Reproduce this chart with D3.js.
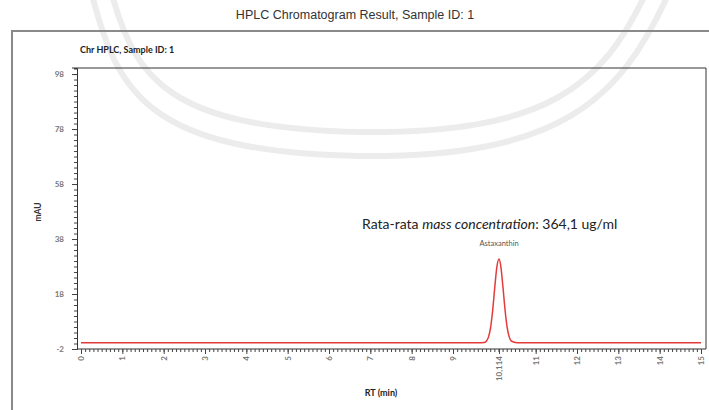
<!DOCTYPE html>
<html>
<head>
<meta charset="utf-8">
<script src="https://cdn.jsdelivr.net/npm/d3@7"></script>
<style>
  html, body { margin: 0; padding: 0; background: #fff; }
  svg { display: block; }
</style>
</head>
<body>
<svg id="chart" width="709" height="410"></svg>
<script>
// ---- data ----
const chartTitle = "HPLC Chromatogram Result, Sample ID: 1";
const panelTitle = "Chr HPLC, Sample ID: 1";
const peakName = "Astaxanthin";
// chromatogram trace: retention time (min) and absorbance (mAU)
const rtValues  = [0, 9.6, 9.76, 9.81, 9.86, 9.91, 9.96, 10.01, 10.06, 10.114, 10.16, 10.21, 10.26, 10.31, 10.36, 10.41, 10.55, 15];
const mauValues = [0.3, 0.3, 0.4, 0.9, 2.4, 5.9, 12.1, 20.3, 27.7, 30.7, 27.7, 20.3, 12.1, 5.9, 2.4, 0.9, 0.3, 0.3];
const xTickValues = [0, 1, 2, 3, 4, 5, 6, 7, 8, 9, 10.114, 11, 12, 13, 14, 15];
const xTickLabels = ["0","1","2","3","4","5","6","7","8","9","10,114","11","12","13","14","15"];
const yTickValues = [-2, 18, 38, 58, 78, 98];
const yTickLabels = ["-2","18","38","58","78","98"];
const peakRT = 10.114, peakMAU = 30.7;
const xDomain = [0, 15];
const yDomain = [-2, 100.2];

const svg = d3.select("#chart");

// faint background watermark arcs
const wm = svg.append("g").attr("fill", "none").attr("stroke", "#ececec").attr("stroke-width", 6);
wm.append("path").attr("d", "M92,-5 C118,95 150,152 360,156 C560,158 620,100 668,-5");
wm.append("path").attr("d", "M112,-5 C136,80 170,128 360,132 C548,134 602,85 645,-5");

// page title
svg.append("text").attr("x", 355).attr("y", 19).attr("text-anchor", "middle")
  .attr("font-family", "Liberation Sans, Arial, sans-serif").attr("font-size", 12.5)
  .attr("fill", "#333").text(chartTitle);

// outer frame
svg.append("rect").attr("x", 12).attr("y", 31).attr("width", 720).attr("height", 400)
  .attr("fill", "none").attr("stroke", "#8a8a8a").attr("stroke-width", 2);

// panel title
svg.append("text").attr("x", 80).attr("y", 53)
  .attr("font-family", "Lato, Open Sans, sans-serif").attr("font-weight", "bold").attr("font-size", 9)
  .attr("fill", "#222").text(panelTitle);

const x = d3.scaleLinear().domain(xDomain).range([81, 701]);
const y = d3.scaleLinear().domain(yDomain).range([349, 68]);

// plot frame top and right
svg.append("line").attr("x1", 72).attr("x2", 706).attr("y1", 68).attr("y2", 68)
  .attr("stroke", "#333").attr("stroke-width", 1);
svg.append("line").attr("x1", 706).attr("x2", 706).attr("y1", 68).attr("y2", 349)
  .attr("stroke", "#333").attr("stroke-width", 1);

// x axis: minor ticks
const xMinor = d3.range(0, 150.5).map(i => i / 10);
svg.append("g").attr("transform", "translate(0,349)")
  .call(d3.axisBottom(x).tickValues(xMinor).tickSize(3).tickFormat(""))
  .call(g => g.select(".domain").attr("stroke", "#333").attr("d", "M77,0H706"))
  .call(g => g.selectAll(".tick line").attr("stroke", "#444"));
// x axis major labels
const xAx = svg.append("g").attr("transform", "translate(0,349)")
  .call(d3.axisBottom(x).tickValues(xTickValues).tickSize(5)
    .tickFormat((d, i) => xTickLabels[i]));
xAx.select(".domain").remove();
xAx.selectAll(".tick line").attr("stroke", "#444");
xAx.selectAll(".tick text")
  .attr("transform", "rotate(-90)")
  .attr("text-anchor", "end").attr("x", -7).attr("y", 0).attr("dy", "0.32em")
  .attr("font-family", "Lato, sans-serif").attr("font-weight", "bold").attr("font-size", 8)
  .attr("fill", "#777");

// y axis minor ticks
const yMinor = d3.range(-2, 100.1, 2);
svg.append("g").attr("transform", "translate(77,0)")
  .call(d3.axisLeft(y).tickValues(yMinor).tickSize(3).tickFormat(""))
  .call(g => g.select(".domain").attr("stroke", "#333"))
  .call(g => g.selectAll(".tick line").attr("stroke", "#444"));
const yAx = svg.append("g").attr("transform", "translate(77,0)")
  .call(d3.axisLeft(y).tickValues(yTickValues).tickSize(5)
    .tickFormat((d, i) => yTickLabels[i]));
yAx.select(".domain").remove();
yAx.selectAll(".tick line").attr("stroke", "#444");
yAx.selectAll(".tick text").attr("x", -13)
  .attr("font-family", "Lato, sans-serif").attr("font-weight", "bold").attr("font-size", 8)
  .attr("fill", "#777");

// axis titles
svg.append("text").attr("transform", "translate(41,212) rotate(-90)").attr("text-anchor", "middle")
  .attr("font-family", "Lato, sans-serif").attr("font-weight", "bold").attr("font-size", 8.5)
  .attr("fill", "#333").text("mAU");
svg.append("text").attr("x", 381).attr("y", 396).attr("text-anchor", "middle")
  .attr("font-family", "Lato, sans-serif").attr("font-weight", "bold").attr("font-size", 9)
  .attr("fill", "#222").text("RT (min)");

// trace
const pts = rtValues.map((r, i) => [r, mauValues[i]]);
const line = d3.line().x(d => x(d[0])).y(d => y(d[1])).curve(d3.curveMonotoneX);
svg.append("path").datum(pts).attr("d", line)
  .attr("fill", "none").attr("stroke", "#e43a3a").attr("stroke-width", 1.5);

// peak label
svg.append("text").attr("x", x(peakRT)).attr("y", y(peakMAU) - 13).attr("text-anchor", "middle")
  .attr("font-family", "Lato, sans-serif").attr("font-size", 7.5).attr("fill", "#555").text(peakName);

// annotation
const ann = svg.append("text").attr("x", 362).attr("y", 229)
  .attr("font-family", "Lato, Open Sans, sans-serif").attr("font-size", 14).attr("fill", "#222");
ann.append("tspan").text("Rata-rata ");
ann.append("tspan").attr("font-style", "italic").text("mass concentration");
ann.append("tspan").text(": 364,1 ug/ml");
</script>
</body>
</html>
